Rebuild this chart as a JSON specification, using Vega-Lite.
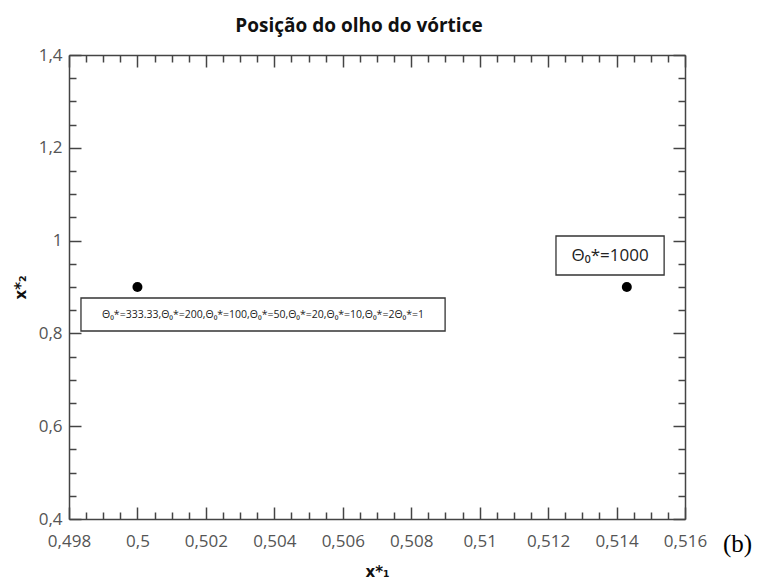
{
  "$schema": "https://vega.github.io/schema/vega-lite/v6.json",
  "autosize": "none",
  "width": 616,
  "height": 464,
  "padding": {"left": 69, "top": 55, "right": 76, "bottom": 60},
  "background": "white",
  "title": {
    "text": "Posição do olho do vórtice",
    "font": "Open Sans",
    "fontSize": 19,
    "fontWeight": "bold",
    "color": "#111",
    "anchor": "middle",
    "dx": -18,
    "offset": 10
  },
  "config": {
    "view": {"stroke": null},
    "axis": {
      "grid": false,
      "domainColor": "#444",
      "domainWidth": 1.5,
      "tickColor": "#444",
      "tickWidth": 1.5,
      "labelFont": "Open Sans",
      "labelFontSize": 17,
      "labelColor": "#555",
      "labelOverlap": false,
      "labelFlush": false,
      "labelBound": false,
      "titleFont": "DejaVu Sans",
      "titleFontSize": 15,
      "titleFontWeight": "bold",
      "titleColor": "#111"
    }
  },
  "datasets": {
    "points": [
      {"x1": 0.5, "x2": 0.9, "caso": "Θ0*=333.33,200,100,50,20,10,2,1"},
      {"x1": 0.5143, "x2": 0.9, "caso": "Θ0*=1000"}
    ],
    "notes": [
      {"label": "Θ₀*=333.33,Θ₀*=200,Θ₀*=100,Θ₀*=50,Θ₀*=20,Θ₀*=10,Θ₀*=2Θ₀*=1", "xa": 0.49835, "xb": 0.50899, "ya": 0.8052, "yb": 0.8763, "xc": 0.50367, "yc": 0.8397, "size": "small"},
      {"label": "Θ₀*=1000", "xa": 0.51223, "xb": 0.51539, "ya": 0.9259, "yb": 1.0099, "xc": 0.51381, "yc": 0.9668, "size": "large"}
    ]
  },
  "layer": [
    {
      "data": {"name": "points"},
      "mark": {"type": "point", "filled": true, "shape": "circle", "size": 100, "color": "black", "opacity": 1},
      "encoding": {
        "x": {
          "field": "x1", "type": "quantitative",
          "scale": {"domain": [0.498, 0.516], "nice": false, "zero": false},
          "axis": {
            "orient": "bottom",
            "title": "x*₁",
            "titlePadding": 10,
            "values": [0.498, 0.4985, 0.499, 0.4995, 0.5, 0.5005, 0.501, 0.5015, 0.502, 0.5025, 0.503, 0.5035, 0.504, 0.5045, 0.505, 0.5055, 0.506, 0.5065, 0.507, 0.5075, 0.508, 0.5085, 0.509, 0.5095, 0.51, 0.5105, 0.511, 0.5115, 0.512, 0.5125, 0.513, 0.5135, 0.514, 0.5145, 0.515, 0.5155, 0.516],
            "labelExpr": "abs(datum.value*500 - round(datum.value*500)) < 0.001 ? replace(format(datum.value, '~g'), '.', ',') : ''",
            "tickSize": {"condition": {"test": "abs(datum.value*500 - round(datum.value*500)) < 0.001", "value": -12}, "value": -7},
            "labelPadding": 26
          }
        },
        "y": {
          "field": "x2", "type": "quantitative",
          "scale": {"domain": [0.4, 1.4], "nice": false, "zero": false},
          "axis": {
            "orient": "left",
            "title": "x*₂",
            "titlePadding": 10,
            "values": [0.4, 0.45, 0.5, 0.55, 0.6, 0.65, 0.7, 0.75, 0.8, 0.85, 0.9, 0.95, 1, 1.05, 1.1, 1.15, 1.2, 1.25, 1.3, 1.35, 1.4],
            "labelExpr": "abs(datum.value*5 - round(datum.value*5)) < 0.001 ? replace(format(datum.value, '~g'), '.', ',') : ''",
            "tickSize": {"condition": {"test": "abs(datum.value*5 - round(datum.value*5)) < 0.001", "value": -12}, "value": -7},
            "labelPadding": 19
          }
        }
      }
    },
    {
      "data": {"name": "notes"},
      "mark": {"type": "rect", "fill": "white", "stroke": "#333", "strokeWidth": 1.3},
      "encoding": {
        "x": {
          "field": "xa", "type": "quantitative",
          "axis": {
            "orient": "top",
            "title": null,
            "labels": false,
            "values": [0.498, 0.4985, 0.499, 0.4995, 0.5, 0.5005, 0.501, 0.5015, 0.502, 0.5025, 0.503, 0.5035, 0.504, 0.5045, 0.505, 0.5055, 0.506, 0.5065, 0.507, 0.5075, 0.508, 0.5085, 0.509, 0.5095, 0.51, 0.5105, 0.511, 0.5115, 0.512, 0.5125, 0.513, 0.5135, 0.514, 0.5145, 0.515, 0.5155, 0.516],
            "tickSize": {"condition": {"test": "abs(datum.value*500 - round(datum.value*500)) < 0.001", "value": -12}, "value": -7}
          }
        },
        "x2": {"field": "xb"},
        "y": {
          "field": "ya", "type": "quantitative",
          "axis": {
            "orient": "right",
            "title": null,
            "labels": false,
            "values": [0.4, 0.45, 0.5, 0.55, 0.6, 0.65, 0.7, 0.75, 0.8, 0.85, 0.9, 0.95, 1, 1.05, 1.1, 1.15, 1.2, 1.25, 1.3, 1.35, 1.4],
            "tickSize": {"condition": {"test": "abs(datum.value*5 - round(datum.value*5)) < 0.001", "value": -12}, "value": -7}
          }
        },
        "y2": {"field": "yb"}
      }
    },
    {
      "data": {"name": "notes"},
      "transform": [{"filter": "datum.size == 'small'"}],
      "mark": {"type": "text", "font": "Open Sans", "fontSize": 10.5, "color": "#222", "align": "center", "baseline": "middle"},
      "encoding": {
        "x": {"field": "xc", "type": "quantitative", "axis": null},
        "y": {"field": "yc", "type": "quantitative", "axis": null},
        "text": {"field": "label"}
      }
    },
    {
      "data": {"name": "notes"},
      "transform": [{"filter": "datum.size == 'large'"}],
      "mark": {"type": "text", "font": "Open Sans", "fontSize": 17, "color": "#222", "align": "center", "baseline": "middle"},
      "encoding": {
        "x": {"field": "xc", "type": "quantitative", "axis": null},
        "y": {"field": "yc", "type": "quantitative", "axis": null},
        "text": {"field": "label"}
      }
    },
    {
      "data": {"values": [{"tag": "(b)", "xp": 0.516, "yp": 0.4}]},
      "mark": {"type": "text", "font": "Liberation Serif", "fontSize": 25, "color": "black", "align": "left", "baseline": "alphabetic", "dx": 38, "dy": 33},
      "encoding": {
        "x": {"field": "xp", "type": "quantitative", "axis": null},
        "y": {"field": "yp", "type": "quantitative", "axis": null},
        "text": {"field": "tag"}
      }
    }
  ],
  "resolve": {"axis": {"x": "independent", "y": "independent"}}
}
